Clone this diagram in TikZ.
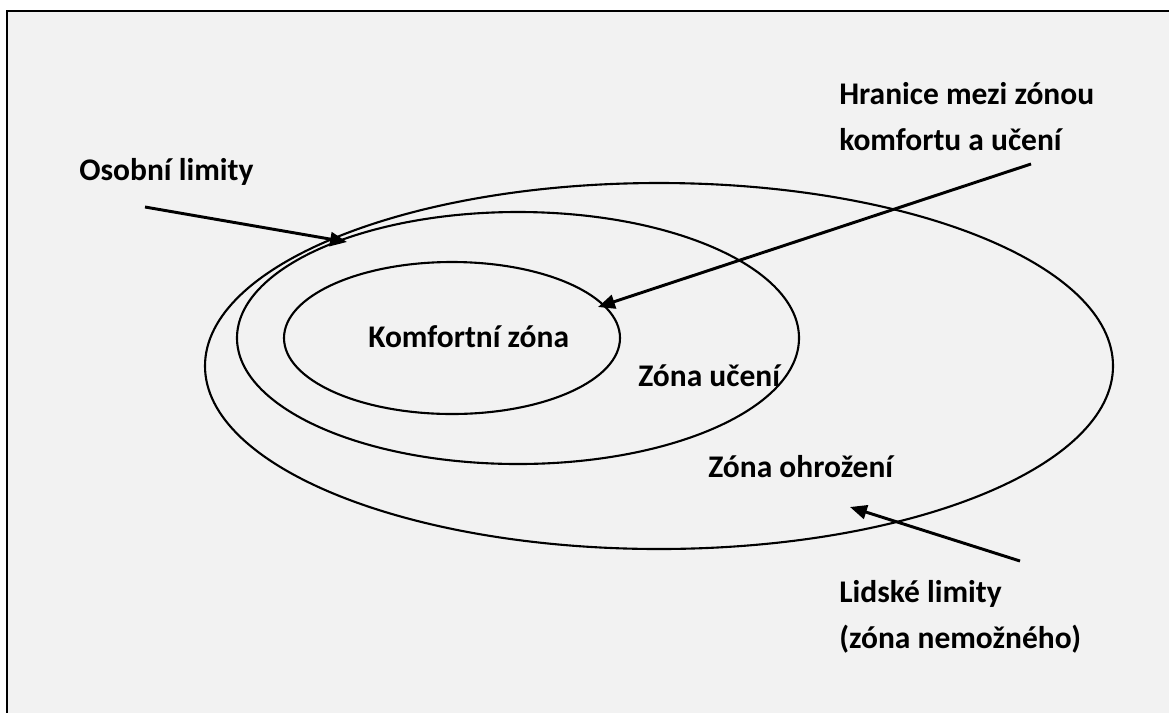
\documentclass[tikz,border=0pt]{standalone}
\usepackage{fontspec}
\setmainfont{Carlito}
\usetikzlibrary{arrows.meta}
\definecolor{panel}{HTML}{F2F2F2}
\begin{document}
\begin{tikzpicture}[x=0.025cm,y=-0.025cm,
  zone/.style={draw=black,line width=1.5pt},
  label/.style={font=\bfseries\fontsize{22.4pt}{32.6pt}\selectfont,inner sep=0pt,align=left},
  pointer/.style={draw=black,line width=2.1pt,-{Triangle[length=12pt,width=10pt]}}]
  \useasboundingbox (0,0) rectangle (1169,712);
  % panel background with frame
  \filldraw[fill=panel,draw=black,line width=1.5pt] (7,11) rectangle (1190,730);
  % nested zones
  \draw[zone] (659,366) ellipse [x radius=454,y radius=183];
  \draw[zone] (518,338) ellipse [x radius=281,y radius=126];
  \draw[zone] (452,338) ellipse [x radius=168,y radius=76];
  % zone names
  \node[label,anchor=base west] (comfort) at (368,347) {Komfortní zóna};
  \node[label,anchor=base west] (learn) at (638,386) {Zóna učení};
  \node[label,anchor=base west] (danger) at (708,477) {Zóna ohrožení};
  % callouts (base anchor sits on the last line)
  \node[label,anchor=base west] (personal) at (79,180) {Osobní limity};
  \node[label,anchor=base west] (border) at (839,150) {Hranice mezi zónou\\komfortu a učení};
  \node[label,anchor=base west] (human) at (839,648) {Lidské limity\\(zóna nemožného)};
  % arrow ends
  \coordinate (pA) at (145,207);
  \coordinate (pB) at (347,242);
  \coordinate (bA) at (1031,164);
  \coordinate (bB) at (598,307);
  \coordinate (hA) at (1020,561);
  \coordinate (hB) at (850,507);
  \draw[pointer] (pA) -- (pB);
  \draw[pointer] (bA) -- (bB);
  \draw[pointer] (hA) -- (hB);
\end{tikzpicture}
\end{document}
